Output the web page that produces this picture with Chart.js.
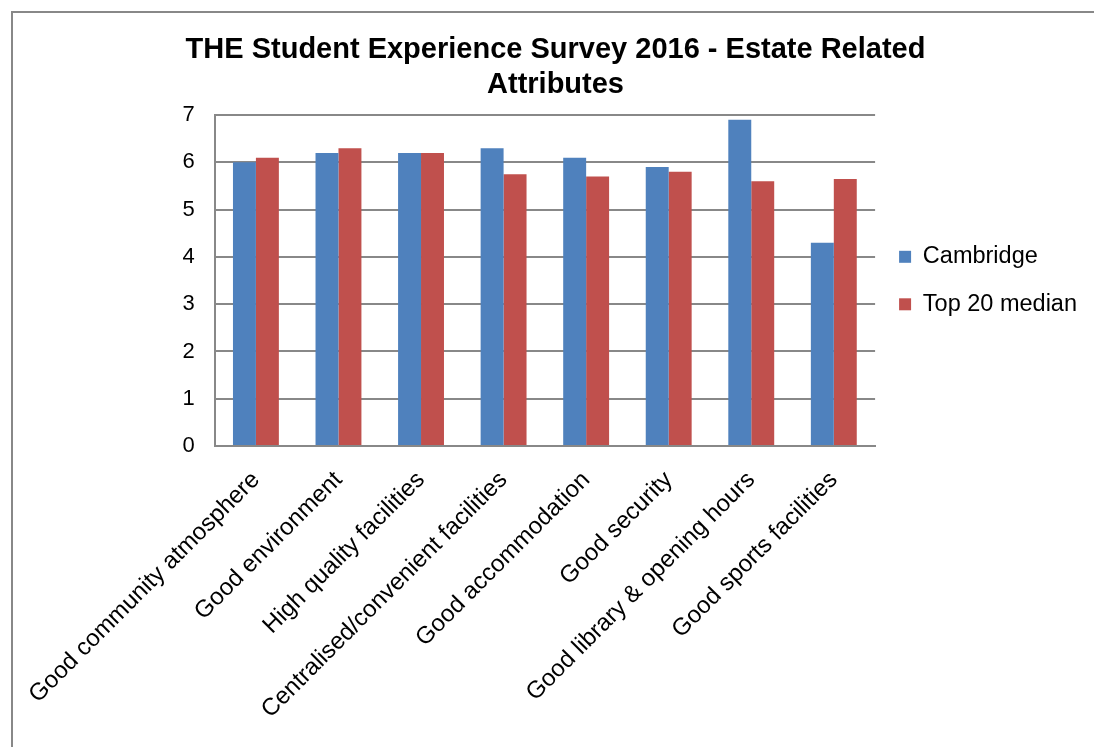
<!DOCTYPE html>
<html>
<head>
<meta charset="utf-8">
<script src="https://cdn.jsdelivr.net/npm/chart.js@4/dist/chart.umd.min.js"></script>
<style>
  html, body { margin: 0; padding: 0; background: #ffffff; overflow: hidden; }
  #frame { position: absolute; left: 11px; top: 11px; width: 1200px; height: 900px; border: 2px solid #888888; box-sizing: border-box; }
  #wrap { position: absolute; left: 0; top: 0; width: 1094px; height: 747px; }
</style>
</head>
<body>
<div id="frame"></div>
<div id="wrap"><canvas id="c" width="1094" height="747"></canvas></div>
<script>
const titleLines = ['THE Student Experience Survey 2016 - Estate Related', 'Attributes'];
const categories = [
  'Good community atmosphere',
  'Good environment',
  'High quality facilities',
  'Centralised/convenient facilities',
  'Good accommodation',
  'Good security',
  'Good library & opening hours',
  'Good sports facilities'
];
const seriesNames = ['Cambridge', 'Top 20 median'];
const cambridge = [6.0, 6.2, 6.2, 6.3, 6.1, 5.9, 6.9, 4.3];
const top20Median = [6.1, 6.3, 6.2, 5.75, 5.7, 5.8, 5.6, 5.65];
const yTicks = [0, 1, 2, 3, 4, 5, 6, 7];

const FONT = "'Liberation Sans', Arial, sans-serif";
const PAD_L = 24;

new Chart(document.getElementById('c'), {
  type: 'bar',
  data: {
    labels: categories,
    datasets: [
      { label: seriesNames[0], data: cambridge, backgroundColor: '#4F81BD', borderWidth: 0 },
      { label: seriesNames[1], data: top20Median, backgroundColor: '#C0504D', borderWidth: 0 }
    ]
  },
  options: {
    responsive: false,
    animation: false,
    devicePixelRatio: 1,
    layout: { padding: { left: PAD_L, right: 7, top: 20, bottom: 0 } },
    datasets: { bar: { categoryPercentage: 0.556, barPercentage: 1.0 } },
    plugins: {
      title: {
        display: true,
        text: titleLines,
        color: '#000000',
        font: { family: FONT, size: 29, weight: 'bold', lineHeight: 1.2 },
        padding: { top: 13, bottom: 12.5 }
      },
      legend: {
        position: 'right',
        align: 'center',
        fullSize: false,
        labels: {
          boxWidth: 12,
          boxHeight: 12,
          padding: 24,
          color: '#000000',
          font: { family: FONT, size: 23.5 }
        }
      },
      tooltip: { enabled: false }
    },
    scales: {
      x: {
        grid: { display: false, drawTicks: false },
        border: { display: true, color: '#888888', width: 2 },
        ticks: {
          color: '#000000',
          font: { family: FONT, size: 24 },
          maxRotation: 45,
          minRotation: 45,
          padding: 20,
          autoSkip: false
        },
        afterFit: function (scale) { scale.height = 747 - 446; }
      },
      y: {
        min: 0,
        max: 7,
        afterBuildTicks: function (scale) { scale.ticks = yTicks.map(v => ({ value: v })); },
        grid: { color: '#888888', lineWidth: 2, drawTicks: false },
        border: { display: true, color: '#888888', width: 2 },
        ticks: {
          color: '#000000',
          font: { family: FONT, size: 22 },
          padding: 20
        },
        afterFit: function (scale) { scale.width = 213 - PAD_L; }
      }
    }
  }
});
</script>
</body>
</html>
